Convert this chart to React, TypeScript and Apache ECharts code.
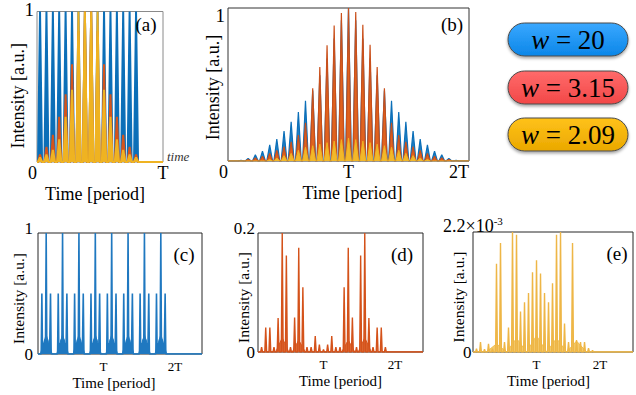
import React, { useEffect, useRef } from 'react';
import * as echarts from 'echarts';

const FONT = 'Liberation Serif';

// ---------- Panel (a): 0 .. T ----------
const A_TIMES = [0.024, 0.075, 0.126, 0.176, 0.227, 0.278, 0.329, 0.38, 0.43, 0.481, 0.532, 0.583, 0.634, 0.684, 0.735, 0.786];
const A_BLUE = [1, 1, 1, 1, 1, 1, 1, 1, 1, 1, 1, 1, 1, 1, 1, 1];
const A_ORANGE = [0.05, 0.1, 0.18, 0.3, 0.45, 0.65, 0.87, 1, 1, 0.87, 0.65, 0.45, 0.3, 0.18, 0.1, 0.05];
const A_YELLOW = [0.03, 0.05, 0.08, 0.15, 0.3, 0.48, 1, 1, 1, 1, 0.48, 0.3, 0.15, 0.08, 0.05, 0.03];

// ---------- Panel (b): 0 .. 2T ----------
const B_TIMES = [0.108, 0.167, 0.227, 0.286, 0.346, 0.405, 0.465, 0.524, 0.584, 0.643, 0.703, 0.762, 0.822, 0.881, 0.941, 1.0, 1.06, 1.119, 1.179, 1.238, 1.298, 1.357, 1.417, 1.476, 1.536, 1.595, 1.655, 1.714, 1.774, 1.833, 1.893];
const B_BLUE = [0.005, 0.017, 0.04, 0.065, 0.105, 0.144, 0.196, 0.257, 0.32, 0.394, 0.46, 0.56, 0.67, 0.8, 0.92, 1, 0.92, 0.8, 0.67, 0.56, 0.46, 0.394, 0.32, 0.257, 0.196, 0.144, 0.105, 0.065, 0.04, 0.017, 0.005];
const B_ORANGE = [0, 0.01, 0.02, 0.03, 0.05, 0.07, 0.094, 0.126, 0.17, 0.25, 0.475, 0.614, 0.757, 0.886, 0.967, 1, 0.974, 0.89, 0.76, 0.614, 0.475, 0.25, 0.17, 0.126, 0.094, 0.07, 0.05, 0.03, 0.02, 0.01, 0];
const B_YELLOW = [0, 0, 0, 0, 0.01, 0.02, 0.035, 0.05, 0.07, 0.09, 0.1, 0.11, 0.12, 0.13, 0.14, 0.15, 0.14, 0.13, 0.12, 0.11, 0.1, 0.09, 0.07, 0.05, 0.035, 0.02, 0.01, 0, 0, 0, 0];

// ---------- Panel (c): w = 20 ----------
const C_GROUP_CENTERS = [0.125, 0.375, 0.625, 0.875, 1.125, 1.375, 1.625, 1.875];
const C_OFFSETS = [-0.066, -0.042, -0.021, 0, 0.021, 0.042, 0.066];
const C_HEIGHTS = [0.5, 0.09, 0.12, 1, 0.12, 0.09, 0.5];
const C_BASE = [0.16, 0.16, 0.16, 0.16, 0.16, 0.16, 0.16, 0.16];

// ---------- Panel (d): w = 3.15 ----------
const D_TIMES = [0.055, 0.118, 0.181, 0.244, 0.307, 0.37, 0.433, 0.496, 0.559, 0.622, 0.685, 0.748, 0.811, 0.874, 0.937, 1.0, 1.063, 1.126, 1.189, 1.252, 1.315, 1.378, 1.441, 1.504, 1.567, 1.63, 1.693, 1.756, 1.819, 1.882, 1.945];
const D_VALUES = [0.008, 0.041, 0.041, 0.008, 0.057, 0.2, 0.162, 0.008, 0.058, 0.175, 0.109, 0.008, 0.008, 0.027, 0.0125, 0.004, 0.0125, 0.027, 0.008, 0.008, 0.109, 0.175, 0.058, 0.008, 0.162, 0.2, 0.057, 0.008, 0.041, 0.041, 0.008];
const D_BASE_TIMES = [0.37, 0.622, 1.378, 1.63];
const D_BASE = [0.024, 0.02, 0.02, 0.024];

// ---------- Panel (e): w = 2.09 (x10^-3) ----------
const E_TIMES = D_TIMES;
const E_VALUES = [0.06, 0.18, 0.05, 0.15, 0.06, 1.62, 2.0, 0.18, 0.45, 2.2, 2.15, 0.74, 0.91, 1.08, 1.46, 1.68, 1.44, 1.08, 0.91, 1.26, 2.15, 2.2, 0.52, 0.18, 2.0, 0.22, 0.18, 0.18, 0.07, 0.03, 0];
const E_BASE_TIMES = [0.37, 0.685, 1.0, 1.315, 1.63];
const E_BASE = [0.15, 0.25, 0.3, 0.25, 0.2];

const LEGEND_VALUES = ['20', '3.15', '2.09'];
const PANEL_LABELS = ['(a)', '(b)', '(c)', '(d)', '(e)'];

const BLUE = '#0c6fb8';
const ORANGE = '#d4541c';
const YELLOW = '#efb322';

function spikes(times: number[], heights: number[], hw: number, end: number): number[][] {
  const pts: number[][] = [[0, 0]];
  times.forEach((t, i) => {
    pts.push([t - hw, 0], [t, heights[i]], [t + hw, 0]);
  });
  pts.push([end, 0]);
  return pts;
}

const C_TIMES: number[] = [];
const C_VALUES: number[] = [];
C_GROUP_CENTERS.forEach((c) => {
  C_OFFSETS.forEach((o, j) => {
    C_TIMES.push(c + o);
    C_VALUES.push(C_HEIGHTS[j]);
  });
});

const A_MAX = 1;
const B_MAX = 2;
const C_MAX = 164 / 65.5;
const D_MAX = 165 / 65.5;
const E_MAX = 165 / 65.5;

function tickRich(size: number, lh: number) {
  return {
    n: { fontFamily: FONT, fontSize: size, lineHeight: lh, color: '#000' },
    z: { fontFamily: FONT, fontSize: size, lineHeight: lh, color: '#000', padding: [0, 9, 0, 0] },
    r: { fontFamily: FONT, fontSize: size, lineHeight: lh, color: '#000', padding: [0, 20, 0, 0] },
    s: { fontFamily: FONT, fontSize: size, lineHeight: lh, color: '#000', padding: [0, 0, 0, 12] },
  };
}

function line(xi: number, data: number[][], color: string, fill: string, width: number, z: number) {
  return {
    type: 'line',
    xAxisIndex: xi,
    yAxisIndex: xi,
    data,
    symbol: 'none',
    silent: true,
    z,
    lineStyle: { color, width },
    areaStyle: { color: fill, opacity: 1 },
  };
}

export default function App() {
  const ref = useRef<HTMLDivElement>(null);
  useEffect(() => {
    if (!ref.current) return;
    const chart = echarts.init(ref.current, undefined, { renderer: 'svg' });

    const frame = (left: number, top: number, width: number, height: number, color: string) => ({
      left, top, width, height, show: true, borderColor: color, borderWidth: 1, backgroundColor: 'transparent',
    });

    const nameStyle = (size: number, padding: number[]) => ({
      fontFamily: FONT, fontSize: size, lineHeight: size, fontWeight: 'normal', color: '#000', padding,
    });

    const xAxes = [
      {
        type: 'value', gridIndex: 0, min: 0, max: A_MAX, interval: 1,
        axisLine: { show: false }, axisTick: { show: false }, splitLine: { show: false },
        axisLabel: {
          margin: 4, showMinLabel: true, showMaxLabel: true, rich: tickRich(18, 14), fontFamily: FONT,
          formatter: (v: number) => (v === 0 ? '{z|0}' : v === 1 ? '{n|T}' : ''),
        },
        name: 'Time [period]', nameLocation: 'middle', nameGap: 23, nameMoveOverlap: false,
        nameTextStyle: nameStyle(18, [0, 10, 0, 0]),
      },
      {
        type: 'value', gridIndex: 1, min: 0, max: B_MAX, interval: 1,
        axisLine: { show: false }, axisTick: { show: false }, splitLine: { show: false },
        axisLabel: {
          margin: 4, showMinLabel: true, showMaxLabel: true, rich: tickRich(18, 14), fontFamily: FONT,
          formatter: (v: number) => (v === 0 ? '{z|0}' : v === 1 ? '{n|T}' : v === 2 ? '{r|2T}' : ''),
        },
        name: 'Time [period]', nameLocation: 'middle', nameGap: 23, nameMoveOverlap: false,
        nameTextStyle: nameStyle(18, [0, 0, 0, 8]),
      },
      ...[
        { gi: 2, max: C_MAX, pad: [0, 12, 0, 0], shift: true },
        { gi: 3, max: D_MAX, pad: [0, 0, 0, 0], shift: true },
        { gi: 4, max: E_MAX, pad: [0, 9, 0, 0], shift: false },
      ].map((o) => ({
        type: 'value', gridIndex: o.gi, min: 0, max: o.max, interval: 1,
        axisLine: { show: false }, axisTick: { show: false }, splitLine: { show: false },
        axisLabel: {
          margin: 7, showMinLabel: true, showMaxLabel: true, rich: tickRich(13, 11), fontFamily: FONT,
          formatter: (v: number) => (v === 1 ? '{n|T}' : v === 2 ? (o.shift ? '{s|2T}' : '{n|2T}') : ''),
        },
        name: 'Time [period]', nameLocation: 'middle', nameGap: 21, nameMoveOverlap: false,
        nameTextStyle: nameStyle(15, o.pad),
      })),
    ];

    const yTop = (size: number, pad: number[]) => ({
      t: { fontFamily: FONT, fontSize: size, color: '#000', padding: pad },
      z: { fontFamily: FONT, fontSize: size, color: '#000' },
    });

    const yAxes = [
      {
        type: 'value', gridIndex: 0, min: 0, max: 1, interval: 1,
        axisLine: { show: false }, axisTick: { show: false }, splitLine: { show: false },
        axisLabel: { margin: 3, showMinLabel: true, showMaxLabel: true, fontFamily: FONT, rich: yTop(19, [0, 0, 4, 0]), formatter: (v: number) => (v === 1 ? '{t|1}' : '') },
        name: 'Intensity [a.u.]', nameLocation: 'middle', nameGap: 10, nameMoveOverlap: false,
        nameTextStyle: nameStyle(18, [0, 18, 0, 0]),
      },
      {
        type: 'value', gridIndex: 1, min: 0, max: 1, interval: 1,
        axisLine: { show: false }, axisTick: { show: false }, splitLine: { show: false },
        axisLabel: { margin: 3, showMinLabel: true, showMaxLabel: true, fontFamily: FONT, rich: yTop(19, [14, 0, 0, 0]), formatter: (v: number) => (v === 1 ? '{t|1}' : '') },
        name: 'Intensity [a.u.]', nameLocation: 'middle', nameGap: 6, nameMoveOverlap: false,
        nameTextStyle: nameStyle(18, [0, 6, 0, 0]),
      },
      {
        type: 'value', gridIndex: 2, min: 0, max: 1, interval: 1,
        axisLine: { show: false }, axisTick: { show: false }, splitLine: { show: false },
        axisLabel: { margin: 5, showMinLabel: true, showMaxLabel: true, fontFamily: FONT, rich: yTop(17, [0, 0, 10, 0]), formatter: (v: number) => (v === 1 ? '{t|1}' : '{z|0}') },
        name: 'Intensity [a.u.]', nameLocation: 'middle', nameGap: 12, nameMoveOverlap: false,
        nameTextStyle: nameStyle(15.5, [0, 10, 0, 0]),
      },
      {
        type: 'value', gridIndex: 3, min: 0, max: 0.2, interval: 0.2,
        axisLine: { show: false }, axisTick: { show: false }, splitLine: { show: false },
        axisLabel: { margin: 3, showMinLabel: true, showMaxLabel: true, fontFamily: FONT, rich: yTop(17, [0, 0, 10, 0]), formatter: (v: number) => (v === 0.2 ? '{t|0.2}' : '{z|0}') },
        name: 'Intensity [a.u.]', nameLocation: 'middle', nameGap: 7, nameMoveOverlap: false,
        nameTextStyle: nameStyle(15.5, [0, 10, 0, 0]),
      },
      {
        type: 'value', gridIndex: 4, min: 0, max: 2.2, interval: 2.2,
        axisLine: { show: false }, axisTick: { show: false }, splitLine: { show: false },
        axisLabel: {
          margin: 30, align: 'left', showMinLabel: true, showMaxLabel: true, fontFamily: FONT,
          rich: {
            t: { fontFamily: FONT, fontSize: 18, color: '#000', padding: [0, 0, 12, 0] },
            s: { fontFamily: FONT, fontSize: 11, color: '#000', padding: [0, 0, 22, 0] },
            z: { fontFamily: FONT, fontSize: 17, color: '#000', padding: [0, 0, 0, 20] },
          },
          formatter: (v: number) => (v === 2.2 ? '{t|2.2×10}{s|-3}' : '{z|0}'),
        },
        name: 'Intensity [a.u.]', nameLocation: 'middle', nameGap: 7, nameMoveOverlap: false,
        nameTextStyle: nameStyle(15.5, [0, 10, 0, 0]),
      },
    ];

    const series = [
      line(0, spikes(A_TIMES, A_BLUE, 0.016, A_MAX), BLUE, BLUE, 2, 2),
      line(0, spikes(A_TIMES, A_ORANGE, 0.016, A_MAX), ORANGE, ORANGE, 2, 3),
      line(0, spikes(A_TIMES, A_YELLOW, 0.017, A_MAX), YELLOW, YELLOW, 2, 4),
      line(1, spikes(B_TIMES, B_BLUE, 0.024, B_MAX), BLUE, '#1f7fc4', 1.2, 2),
      line(1, spikes(B_TIMES, B_ORANGE, 0.022, B_MAX), '#c9501c', '#e0631f', 1.2, 3),
      line(1, spikes(B_TIMES, B_YELLOW, 0.024, B_MAX), YELLOW, '#f2b82a', 1, 4),
      line(2, spikes(C_GROUP_CENTERS, C_BASE, 0.09, C_MAX), '#2a84c8', '#2a84c8', 1, 2),
      line(2, spikes(C_TIMES, C_VALUES, 0.01, C_MAX), '#1f78c0', '#3a8fd0', 1.6, 3),
      line(3, spikes(D_BASE_TIMES, D_BASE, 0.1, D_MAX), '#d95a22', '#dd6a35', 1, 2),
      line(3, spikes(D_TIMES, D_VALUES, 0.014, D_MAX), '#d4521a', '#e07040', 1.4, 3),
      line(4, spikes(E_BASE_TIMES, E_BASE, 0.16, E_MAX), '#f0be50', '#f3c96c', 1, 2),
      line(4, spikes(E_TIMES, E_VALUES, 0.014, E_MAX), '#eeb646', '#f3c565', 1.4, 3),
    ];

    const letter = (text: string, x: number, y: number) => ({
      type: 'text', x, y, z: 50,
      style: { text, fontFamily: FONT, fontSize: 19, fill: '#000', align: 'center', verticalAlign: 'middle' },
    });

    const legendColors = [
      ['#3aa8ff', '#0b86e8'],
      ['#ff6a6a', '#f24848'],
      ['#ffc21a', '#eaa800'],
    ];
    const legendTops = [23, 71, 118];
    const legend = LEGEND_VALUES.map((v, i) => ({
      type: 'group', x: 508, y: legendTops[i], z: 50,
      children: [
        {
          type: 'rect', shape: { x: 0, y: 0, width: 120, height: 33, r: 16.5 },
          style: {
            fill: new echarts.graphic.LinearGradient(0, 0, 0, 1, [
              { offset: 0, color: legendColors[i][0] },
              { offset: 1, color: legendColors[i][1] },
            ]),
            stroke: '#4a4a4a', lineWidth: 1,
            shadowBlur: 3, shadowOffsetY: 2, shadowColor: 'rgba(0,0,0,0.35)',
          },
        },
        {
          type: 'text', x: 60, y: 17,
          style: {
            text: '{i|w} = ' + v,
            rich: {
              i: { fontFamily: FONT, fontSize: 27, fontStyle: 'italic', fill: '#000' },
            },
            fontFamily: FONT, fontSize: 27, fill: '#000', align: 'center', verticalAlign: 'middle',
          },
        },
      ],
    }));

    chart.setOption({
      animation: false,
      backgroundColor: '#ffffff',
      textStyle: { fontFamily: FONT },
      grid: [
        frame(37, 8, 126, 154, '#8a8a8a'),
        frame(228, 8, 241, 153, '#333333'),
        frame(38, 233, 164, 121, '#262626'),
        frame(258, 233, 165, 119, '#262626'),
        frame(473, 232, 165, 120, '#262626'),
      ],
      xAxis: xAxes,
      yAxis: yAxes,
      series,
      graphic: [
        letter(PANEL_LABELS[0], 146, 24),
        letter(PANEL_LABELS[1], 452, 24),
        letter(PANEL_LABELS[2], 184, 254),
        letter(PANEL_LABELS[3], 402, 254),
        letter(PANEL_LABELS[4], 617, 253),
        {
          type: 'text', x: 167, y: 156, z: 50,
          style: { text: 'time', fontFamily: FONT, fontSize: 13, fontStyle: 'italic', fill: '#333', align: 'left', verticalAlign: 'middle' },
        },
        ...legend,
      ],
    } as any);

    return () => chart.dispose();
  }, []);

  return <div ref={ref} style={{ position: 'absolute', left: 0, top: 0, width: 636, height: 395, background: '#fff' }} />;
}
